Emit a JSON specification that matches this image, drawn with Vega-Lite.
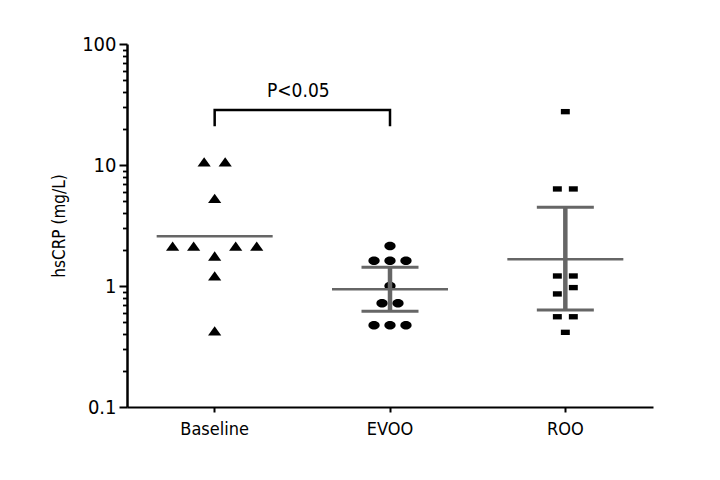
{
  "$schema": "https://vega.github.io/schema/vega-lite/v6.json",
  "width": 526,
  "height": 363,
  "autosize": "none",
  "padding": {"left": 127, "top": 44, "right": 67, "bottom": 73},
  "background": "white",
  "config": {
    "view": {"stroke": null},
    "font": "'DejaVu Sans Condensed', 'Liberation Sans Narrow', 'Noto Sans', sans-serif",
    "axis": {"labelFont": "'DejaVu Sans Condensed', 'Liberation Sans Narrow', 'Noto Sans', sans-serif", "titleFont": "'DejaVu Sans Condensed', 'Liberation Sans Narrow', 'Noto Sans', sans-serif", "grid": false}
  },
  "datasets": {
    "points": [
      {"group": "Baseline", "value": 10.6, "jitter": -0.5},
      {"group": "Baseline", "value": 10.6, "jitter": 0.5},
      {"group": "Baseline", "value": 5.3, "jitter": 0},
      {"group": "Baseline", "value": 2.14, "jitter": -2},
      {"group": "Baseline", "value": 2.14, "jitter": -1},
      {"group": "Baseline", "value": 2.14, "jitter": 1},
      {"group": "Baseline", "value": 2.14, "jitter": 2},
      {"group": "Baseline", "value": 1.77, "jitter": 0},
      {"group": "Baseline", "value": 1.21, "jitter": 0},
      {"group": "Baseline", "value": 0.425, "jitter": 0},
      {"group": "EVOO", "value": 2.14, "jitter": 0},
      {"group": "EVOO", "value": 1.62, "jitter": -0.76},
      {"group": "EVOO", "value": 1.62, "jitter": 0},
      {"group": "EVOO", "value": 1.62, "jitter": 0.76},
      {"group": "EVOO", "value": 1.0, "jitter": 0},
      {"group": "EVOO", "value": 0.72, "jitter": -0.38},
      {"group": "EVOO", "value": 0.72, "jitter": 0.38},
      {"group": "EVOO", "value": 0.473, "jitter": -0.76},
      {"group": "EVOO", "value": 0.473, "jitter": 0},
      {"group": "EVOO", "value": 0.473, "jitter": 0.76},
      {"group": "ROO", "value": 27.6, "jitter": 0},
      {"group": "ROO", "value": 6.34, "jitter": -0.38},
      {"group": "ROO", "value": 6.34, "jitter": 0.38},
      {"group": "ROO", "value": 1.21, "jitter": -0.38},
      {"group": "ROO", "value": 1.21, "jitter": 0.38},
      {"group": "ROO", "value": 0.97, "jitter": 0.38},
      {"group": "ROO", "value": 0.86, "jitter": -0.38},
      {"group": "ROO", "value": 0.557, "jitter": -0.38},
      {"group": "ROO", "value": 0.557, "jitter": 0.38},
      {"group": "ROO", "value": 0.414, "jitter": 0}
    ],
    "summary": [
      {"group": "Baseline", "mean": 2.58},
      {"group": "EVOO", "mean": 0.94, "lo": 0.618, "hi": 1.43},
      {"group": "ROO", "mean": 1.66, "lo": 0.634, "hi": 4.47}
    ],
    "bracket": [
      {"group": "Baseline", "y": 21.4, "order": 1},
      {"group": "Baseline", "y": 28.5, "order": 2},
      {"group": "EVOO", "y": 28.5, "order": 3},
      {"group": "EVOO", "y": 21.4, "order": 4}
    ],
    "label": [
      {"group": "Baseline", "y": 36.5, "text": "P<0.05"}
    ]
  },
  "encoding": {
    "x": {
      "field": "group",
      "type": "nominal",
      "sort": ["Baseline", "EVOO", "ROO"],
      "scale": {"domain": ["Baseline", "EVOO", "ROO"], "paddingInner": 0, "paddingOuter": 0},
      "axis": {
        "title": null,
        "labelAngle": 0,
        "labelFontSize": 18,
        "labelColor": "black",
        "labelPadding": 8,
        "domainColor": "black",
        "domainWidth": 2,
        "tickColor": "black",
        "tickWidth": 2,
        "tickSize": 5,
        "tickBand": "center"
      }
    }
  },
  "layer": [
    {
      "data": {"name": "points"},
      "mark": {"type": "point", "filled": true, "color": "black", "opacity": 1, "strokeWidth": 0},
      "encoding": {
        "xOffset": {"field": "jitter", "type": "quantitative", "scale": {"domain": [-4.17, 4.17]}},
        "y": {
          "field": "value",
          "type": "quantitative",
          "scale": {"type": "log", "domain": [0.1, 100], "nice": false},
          "axis": {
            "orient": "left",
            "values": [0.1, 1, 10, 100],
            "format": "~g",
            "title": "hsCRP (mg/L)",
            "titleFontSize": 17,
            "titleFontWeight": "normal",
            "titleColor": "black",
            "titlePadding": 13,
            "labelFontSize": 20,
            "labelColor": "black",
            "labelPadding": 3,
            "domainColor": "black",
            "domainWidth": 2.5,
            "tickColor": "black",
            "tickWidth": 2,
            "tickSize": 8
          }
        },
        "shape": {
          "field": "group",
          "type": "nominal",
          "scale": {
            "domain": ["Baseline", "EVOO", "ROO"],
            "range": ["M-1,0.7L1,0.7L0,-0.7Z", "M-1,0A1,0.75,0,1,0,1,0A1,0.75,0,1,0,-1,0Z", "M-1,-0.6H1V0.6H-1Z"]
          },
          "legend": null
        },
        "size": {
          "field": "group",
          "type": "nominal",
          "scale": {"domain": ["Baseline", "EVOO", "ROO"], "range": [175, 80, 121]},
          "legend": null
        }
      }
    },
    {
      "data": {"name": "points"},
      "mark": {"type": "point", "opacity": 0},
      "encoding": {
        "y": {
          "field": "value",
          "type": "quantitative",
          "axis": {
            "orient": "left",
            "values": [0.2, 0.3, 0.4, 0.5, 0.6, 0.7, 0.8, 0.9, 2, 3, 4, 5, 6, 7, 8, 9, 20, 30, 40, 50, 60, 70, 80, 90],
            "labels": false,
            "domain": false,
            "title": null,
            "tickColor": "black",
            "tickWidth": 1.8,
            "tickSize": 4.5
          }
        }
      }
    },
    {
      "data": {"name": "summary"},
      "mark": {"type": "tick", "color": "#666666", "size": 116, "thickness": 2.5, "opacity": 1, "orient": "horizontal"},
      "encoding": {
        "y": {"field": "mean", "type": "quantitative", "axis": null}
      }
    },
    {
      "data": {"name": "summary"},
      "transform": [{"filter": "isValid(datum.lo)"}],
      "mark": {"type": "rule", "color": "#666666", "strokeWidth": 4.5},
      "encoding": {
        "y": {"field": "lo", "type": "quantitative", "axis": null},
        "y2": {"field": "hi"}
      }
    },
    {
      "data": {"name": "summary"},
      "transform": [{"filter": "isValid(datum.lo)"}],
      "mark": {"type": "tick", "color": "#666666", "size": 57, "thickness": 3, "opacity": 1, "orient": "horizontal"},
      "encoding": {
        "y": {"field": "lo", "type": "quantitative", "axis": null}
      }
    },
    {
      "data": {"name": "summary"},
      "transform": [{"filter": "isValid(datum.hi)"}],
      "mark": {"type": "tick", "color": "#666666", "size": 57, "thickness": 3, "opacity": 1, "orient": "horizontal"},
      "encoding": {
        "y": {"field": "hi", "type": "quantitative", "axis": null}
      }
    },
    {
      "data": {"name": "bracket"},
      "mark": {"type": "line", "color": "black", "strokeWidth": 2.5, "strokeJoin": "miter", "strokeCap": "square"},
      "encoding": {
        "y": {"field": "y", "type": "quantitative", "axis": null},
        "order": {"field": "order", "type": "quantitative"}
      }
    },
    {
      "data": {"name": "label"},
      "mark": {"type": "text", "fontSize": 19, "color": "black", "baseline": "alphabetic", "align": "center", "dx": -4},
      "encoding": {
        "x": {"field": "group", "type": "nominal", "bandPosition": 1},
        "y": {"field": "y", "type": "quantitative", "axis": null},
        "text": {"field": "text"}
      }
    }
  ],
  "resolve": {"axis": {"y": "independent"}}
}
